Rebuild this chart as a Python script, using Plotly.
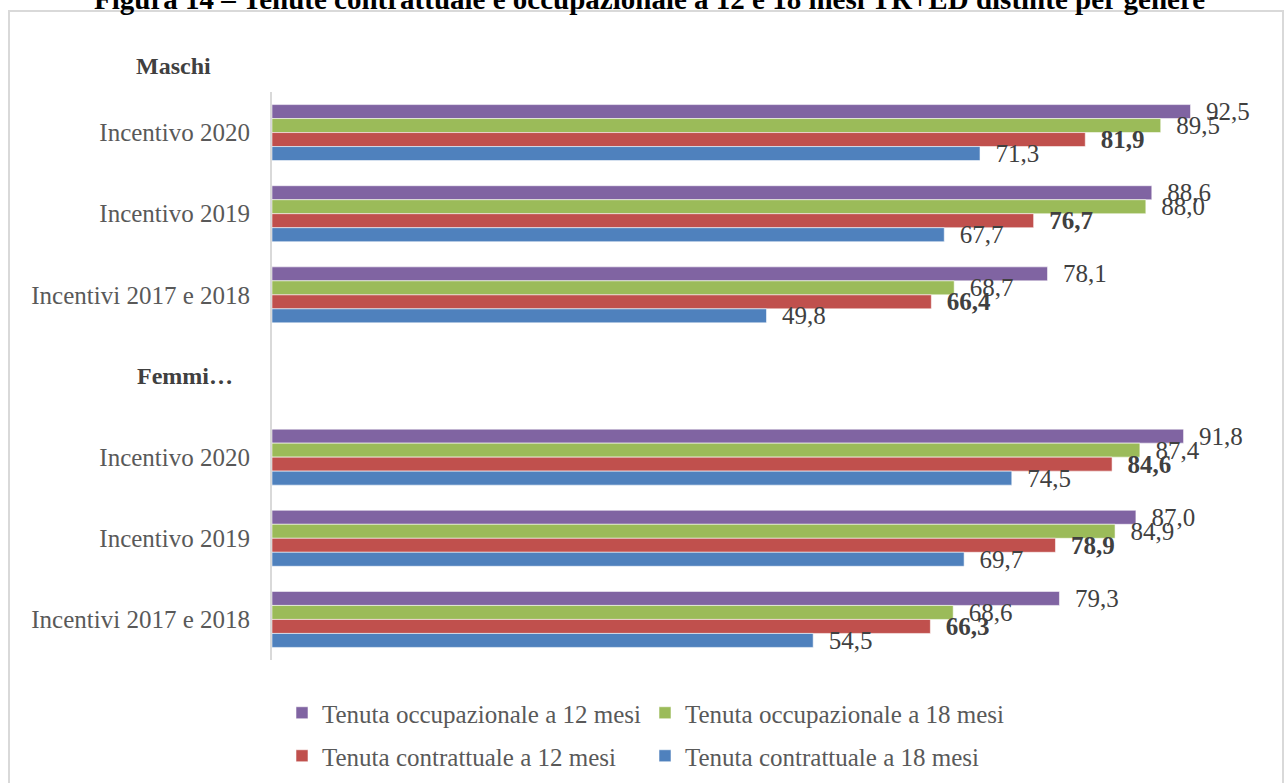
import plotly.graph_objects as go

# Row layout of the horizontal category axis (top to bottom)
row_labels = ["Incentivo 2020", "Incentivo 2019", "Incentivi 2017 e 2018", "",
              "Incentivo 2020", "Incentivo 2019", "Incentivi 2017 e 2018"]
row_pos = [0, 1, 2, 3, 4, 5, 6]
group_titles = ["Maschi", "Femmi…"]

# Percentages per row (None on the Femmine header row)
occ_12 = [92.5, 88.6, 78.1, None, 91.8, 87.0, 79.3]
occ_18 = [89.5, 88.0, 68.7, None, 87.4, 84.9, 68.6]
con_12 = [81.9, 76.7, 66.4, None, 84.6, 78.9, 66.3]
con_18 = [71.3, 67.7, 49.8, None, 74.5, 69.7, 54.5]

series_names = ["Tenuta occupazionale a 12 mesi", "Tenuta occupazionale a 18 mesi",
                "Tenuta contrattuale a 12 mesi", "Tenuta contrattuale a 18 mesi"]
series_values = [occ_12, occ_18, con_12, con_18]
series_colors = ["#8064A2", "#9BBB59", "#C0504D", "#4F81BD"]
series_bold = [False, False, True, False]
series_legend = ["legend", "legend", "legend2", "legend2"]

title_text = "Figura 14 – Tenute contrattuale e occupazionale a 12 e 18 mesi TR+ED distinte per genere"

FONT = "Liberation Serif"
W, H = 1284, 783
ML, MR, MT, MB = 272, 19, 92, 123
PW, PH = W - ML - MR, H - MT - MB


def px_x(p):
    return (p - ML) / PW


def px_y(p):
    return (H - MB - p) / PH


def fmt(v):
    if v is None:
        return ""
    return "\u00a0\u00a0" + f"{v:.1f}".replace(".", ",")


fig = go.Figure()
for name, vals, col, bold, lg in zip(series_names, series_values, series_colors,
                                     series_bold, series_legend):
    fig.add_trace(go.Bar(
        name=name,
        x=vals,
        y=row_pos,
        orientation="h",
        marker=dict(color=col, line=dict(color="rgba(255,255,255,0.55)", width=1)),
        text=[fmt(v) for v in vals],
        textposition="outside",
        constraintext="none",
        cliponaxis=False,
        textfont=dict(family=FONT, size=25, color="#404040",
                      weight="bold" if bold else "normal"),
        legend=lg,
        hoverinfo="skip",
    ))

annotations = [
    dict(text=title_text, xref="paper", yref="paper", x=px_x(649), y=px_y(17),
         xanchor="center", yanchor="bottom", showarrow=False,
         font=dict(family=FONT, size=29, color="#000000", weight="bold")),
    dict(text=group_titles[0], xref="paper", yref="paper", x=px_x(173), y=px_y(66),
         xanchor="center", yanchor="middle", showarrow=False,
         font=dict(family=FONT, size=24, color="#404040", weight="bold")),
    dict(text=group_titles[1], xref="paper", yref="y", x=px_x(185), y=row_pos[3],
         xanchor="center", yanchor="middle", showarrow=False,
         font=dict(family=FONT, size=24, color="#404040", weight="bold")),
]

# Outer chart frame
shapes = [
    dict(type="rect", xref="paper", yref="paper",
         x0=px_x(9), x1=px_x(1283), y0=px_y(800), y1=px_y(11),
         line=dict(color="#D9D9D9", width=2), fillcolor="rgba(0,0,0,0)", layer="below"),
]

legend_common = dict(orientation="h", xanchor="left", yanchor="middle",
                     font=dict(family=FONT, size=25, color="#595959"),
                     itemwidth=30, entrywidth=318, bgcolor="rgba(0,0,0,0)",
                     traceorder="normal")

fig.update_layout(
    width=W, height=H,
    margin=dict(l=ML, r=MR, t=MT, b=MB, pad=0, autoexpand=False),
    paper_bgcolor="white", plot_bgcolor="white",
    barmode="group", bargap=0.31, bargroupgap=0,
    showlegend=True,
    legend=dict(x=px_x(282), y=px_y(713), **legend_common),
    legend2=dict(x=px_x(282), y=px_y(756), **legend_common),
    xaxis=dict(range=[0, 100], showgrid=False, zeroline=False, showline=False,
               showticklabels=False, ticks=""),
    yaxis=dict(range=[6.5, -0.5], tickmode="array", tickvals=row_pos, ticktext=row_labels,
               showgrid=False, zeroline=False, showline=True, linecolor="#D9D9D9",
               linewidth=2, ticks="", ticklabelstandoff=15,
               tickfont=dict(family=FONT, size=25, color="#595959")),
    annotations=annotations,
    shapes=shapes,
    font=dict(family=FONT),
)

fig.write_html("out.html")
